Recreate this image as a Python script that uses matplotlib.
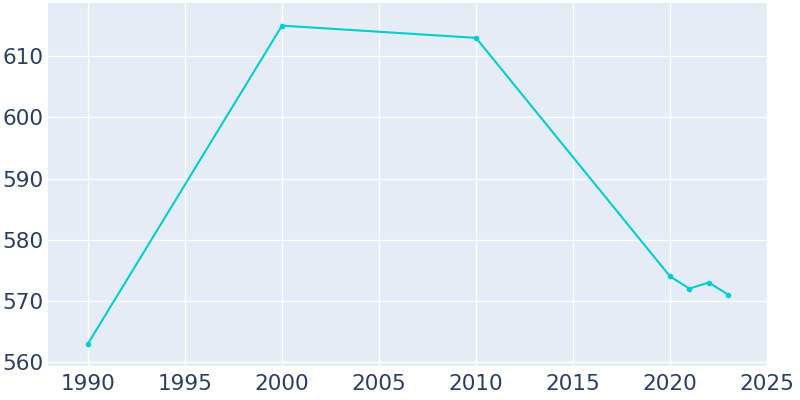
import matplotlib
matplotlib.use("Agg")
import matplotlib.pyplot as plt

# population by year
years = [1990, 2000, 2010, 2020, 2021, 2022, 2023]
population = [563, 615, 613, 574, 572, 573, 571]

fig = plt.figure(figsize=(8, 4), dpi=100)
ax = fig.add_axes([0.06, 0.085, 0.9, 0.9075])
ax.set_facecolor("#E5ECF6")

ax.plot(years, population, color="#00CED1", linewidth=1.5,
        marker="o", markersize=3)

ax.set_xlim(1987.94, 2025.05)
ax.set_ylim(559.35, 618.7)
ax.set_xticks(range(1990, 2026, 5))
ax.set_yticks(range(560, 611, 10))

ax.grid(color="white", linewidth=1)
ax.set_axisbelow(True)
for s in ax.spines.values():
    s.set_visible(False)
ax.tick_params(length=0, labelsize=15.5, labelcolor="#2a3f5f")
ax.tick_params(axis="x", pad=6)
ax.tick_params(axis="y", pad=3)

fig.savefig("out.png")
